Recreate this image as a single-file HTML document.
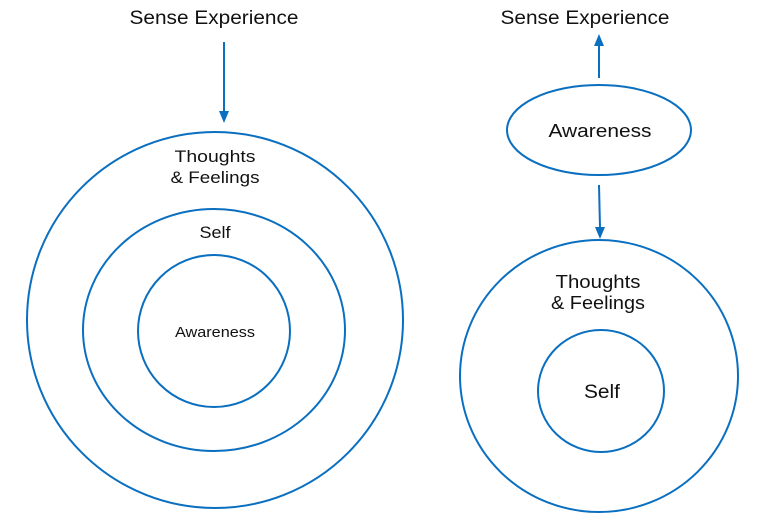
<!DOCTYPE html>
<html><head><style>html,body{margin:0;padding:0;background:#fff}svg{display:block}</style></head>
<body>
<svg width="760" height="527" viewBox="0 0 760 527" xmlns="http://www.w3.org/2000/svg">
<g fill="none" stroke="#0b6fc0" stroke-width="2">
<ellipse cx="215" cy="320" rx="188" ry="188"/>
<ellipse cx="214" cy="330" rx="131" ry="121"/>
<ellipse cx="214" cy="331" rx="76" ry="76"/>
<ellipse cx="599" cy="130" rx="92" ry="45"/>
<ellipse cx="599" cy="376" rx="139" ry="136"/>
<ellipse cx="601" cy="391" rx="63" ry="61"/>
<line x1="224" y1="42" x2="224" y2="112"/>
<line x1="599" y1="78" x2="599" y2="44"/>
<line x1="599" y1="185" x2="600" y2="228"/>
</g>
<g fill="#0b6fc0">
<polygon points="219,111 229,111 224,123"/>
<polygon points="594,46 604,46 599,34"/>
<polygon points="595,227 605,227 600,239"/>
</g>
<g font-family="Liberation Sans, sans-serif" fill="#111" text-anchor="middle">
<text x="214" y="24" font-size="19" textLength="169" lengthAdjust="spacingAndGlyphs">Sense Experience</text>
<text x="585" y="24" font-size="19" textLength="169" lengthAdjust="spacingAndGlyphs">Sense Experience</text>
<text x="215" y="162" font-size="17" textLength="81" lengthAdjust="spacingAndGlyphs">Thoughts</text>
<text x="215" y="183" font-size="17" textLength="89" lengthAdjust="spacingAndGlyphs">&amp; Feelings</text>
<text x="215" y="238" font-size="17" textLength="31" lengthAdjust="spacingAndGlyphs">Self</text>
<text x="215" y="337" font-size="15" textLength="80" lengthAdjust="spacingAndGlyphs">Awareness</text>
<text x="600" y="137" font-size="18" textLength="103" lengthAdjust="spacingAndGlyphs">Awareness</text>
<text x="598" y="288" font-size="18" textLength="85" lengthAdjust="spacingAndGlyphs">Thoughts</text>
<text x="598" y="309" font-size="18" textLength="94" lengthAdjust="spacingAndGlyphs">&amp; Feelings</text>
<text x="602" y="398" font-size="19" textLength="36" lengthAdjust="spacingAndGlyphs">Self</text>
</g>
</svg>
</body></html>
